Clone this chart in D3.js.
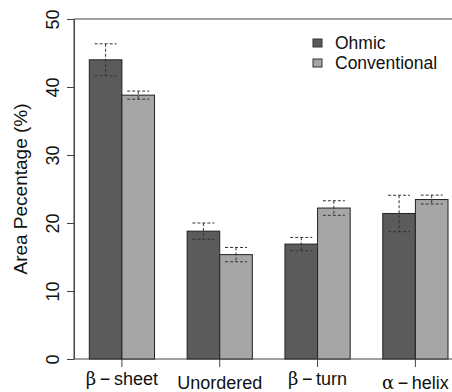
<!DOCTYPE html>
<html>
<head>
<meta charset="utf-8">
<script src="https://cdn.jsdelivr.net/npm/d3@7"></script>
<style>
  body { margin: 0; background: #fff; }
  svg { display: block; font-family: "Liberation Sans", Arial, sans-serif; }
</style>
</head>
<body>
<svg width="452" height="392"></svg>
<script>
const categories = ["β\u2009−\u2009sheet", "Unordered", "β\u2009−\u2009turn", "α\u2009−\u2009helix"];
const seriesNames = ["Ohmic", "Conventional"];
const ohmic = [44.0, 18.8, 16.9, 21.4];
const conventional = [38.8, 15.35, 22.2, 23.45];
const ohmicErr = [2.35, 1.2, 0.98, 2.68];
const conventionalErr = [0.6, 1.05, 1.07, 0.65];
const yTicks = [0, 10, 20, 30, 40, 50];

const colors = ["#5b5b5b", "#a6a6a6"];

const svg = d3.select("svg");
const plotLeft = 74, plotTop = 19, plotBottom = 359, plotRight = 460;

const x = d3.scaleBand().domain(categories).range([89.3, 448]).paddingInner(1 / 3).paddingOuter(0);
const xs = d3.scaleBand().domain(seriesNames).range([0, x.bandwidth()]);
const y = d3.scaleLinear().domain([0, 50]).range([plotBottom, plotTop]);

const rows = categories.map((c, i) => ({
  cat: c,
  vals: [
    { name: "Ohmic", v: ohmic[i], e: ohmicErr[i] },
    { name: "Conventional", v: conventional[i], e: conventionalErr[i] }
  ]
}));

// box
svg.append("rect")
  .attr("x", plotLeft).attr("y", plotTop)
  .attr("width", plotRight - plotLeft).attr("height", plotBottom - plotTop)
  .attr("fill", "none").attr("stroke", "#444").attr("stroke-width", 1);

// bars
const grp = svg.selectAll(".grp").data(rows).enter().append("g")
  .attr("class", "grp")
  .attr("transform", d => "translate(" + x(d.cat) + ",0)");

grp.selectAll("rect").data(d => d.vals).enter().append("rect")
  .attr("x", d => xs(d.name))
  .attr("y", d => y(d.v))
  .attr("width", xs.bandwidth())
  .attr("height", d => y(0) - y(d.v))
  .attr("fill", (d, i) => colors[i])
  .attr("stroke", "#222")
  .attr("stroke-width", 1);

// error bars
const err = grp.selectAll(".err").data(d => d.vals).enter().append("g")
  .attr("class", "err")
  .attr("stroke", "#333")
  .attr("stroke-width", 1)
  .attr("stroke-dasharray", "3,2");
err.append("line")
  .attr("x1", d => xs(d.name) + xs.bandwidth() / 2)
  .attr("x2", d => xs(d.name) + xs.bandwidth() / 2)
  .attr("y1", d => y(d.v + d.e))
  .attr("y2", d => y(d.v - d.e));
[1, -1].forEach(s => {
  err.append("line")
    .attr("x1", d => xs(d.name) + xs.bandwidth() / 2 - 11)
    .attr("x2", d => xs(d.name) + xs.bandwidth() / 2 + 11)
    .attr("y1", d => y(d.v + s * d.e))
    .attr("y2", d => y(d.v + s * d.e));
});

// y axis
const yAxis = svg.append("g")
  .attr("transform", "translate(" + plotLeft + ",0)")
  .call(d3.axisLeft(y).tickValues(yTicks).tickSize(7).tickSizeOuter(0));
yAxis.select(".domain").attr("stroke", "#444");
yAxis.selectAll(".tick line").attr("stroke", "#444");
yAxis.selectAll(".tick text")
  .attr("x", 0).attr("y", 0).attr("dy", null)
  .attr("transform", "translate(-15,0) rotate(-90)")
  .attr("text-anchor", "middle")
  .attr("font-size", 18)
  .attr("font-family", "Liberation Sans, Arial, sans-serif")
  .attr("fill", "#111");

// x ticks
svg.selectAll(".xtick").data(categories).enter().append("line")
  .attr("x1", d => x(d) + x.bandwidth() / 2)
  .attr("x2", d => x(d) + x.bandwidth() / 2)
  .attr("y1", plotBottom).attr("y2", plotBottom + 8)
  .attr("stroke", "#444");

const xl = svg.selectAll(".xlab").data(categories).enter().append("text")
  .attr("x", d => x(d) + x.bandwidth() / 2)
  .attr("y", d => d[0] === "β" ? 385 : 389)
  .attr("text-anchor", "middle")
  .attr("font-size", 18)
  .attr("fill", "#111");
xl.each(function(d) {
  const t = d3.select(this);
  if (/^[α-ω]/.test(d)) {
    t.append("tspan").attr("font-family", "DejaVu Serif, serif").text(d[0]);
    t.append("tspan").text(d.slice(1));
  } else {
    t.text(d);
  }
});

// y title
svg.append("text")
  .attr("transform", "translate(27," + (plotTop + plotBottom) / 2 + ") rotate(-90)")
  .attr("text-anchor", "middle")
  .attr("font-size", 19)
  .attr("fill", "#111")
  .text("Area Pecentage (%)");

// legend
const leg = svg.selectAll(".leg").data(seriesNames).enter().append("g")
  .attr("class", "leg")
  .attr("transform", (d, i) => "translate(313," + (39 + i * 20) + ")");
leg.append("rect")
  .attr("width", 9).attr("height", 8)
  .attr("fill", (d, i) => colors[i])
  .attr("stroke", "#333");
leg.append("text")
  .attr("x", 22).attr("y", 10)
  .attr("font-size", 17.5)
  .attr("fill", "#111")
  .text(d => d);
</script>
</body>
</html>
